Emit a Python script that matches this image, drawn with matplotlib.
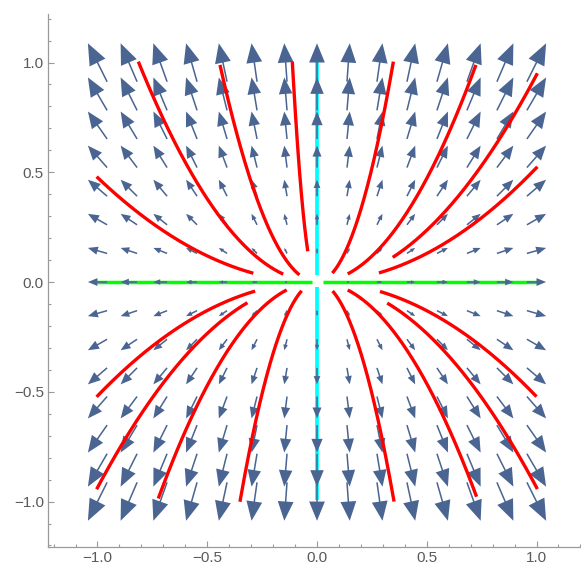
import numpy as np
import matplotlib
matplotlib.use('Agg')
import matplotlib.pyplot as plt
from matplotlib.patches import FancyArrow

# vector field x' = x, y' = 2y sampled on a 15x15 grid
grid = np.arange(-7, 8) / 7.0
field_a = 1.0
field_b = 2.0

# red trajectories: (x_start, y_start, x_end, y_end)
curves = [
    (-0.29, 0.047, -1.004, 0.48),
    (-0.154, 0.04, -0.814, 1.004),
    (-0.08, 0.032, -0.442, 0.989),
    (-0.042, 0.135, -0.1125, 1.004),
    (0.07, 0.044, 0.348, 1.004),
    (0.14, 0.04, 0.724, 0.989),
    (0.345, 0.115, 1.004, 0.951),
    (0.282, 0.047, 1.004, 0.525),
    (-0.282, -0.036, -1.004, -0.523),
    (-0.317, -0.093, -1.004, -0.944),
    (-0.138, -0.033, -0.723, -0.986),
    (-0.07, -0.04, -0.351, -1.001),
    (0.071, -0.036, 0.351, -1.0),
    (0.14, -0.033, 0.727, -0.978),
    (0.32, -0.093, 1.004, -0.943),
    (0.287, -0.04, 1.0, -0.522),
]

# axis lines (eigen directions)
green_segs = [(-1.0, -0.023), (0.026, 1.0)]
cyan_segs = [(0.03, 1.01), (-0.023, -0.995)]

xticks = [-1.0, -0.5, 0.0, 0.5, 1.0]
yticks = [-1.0, -0.5, 0.0, 0.5, 1.0]

fig = plt.figure(figsize=(5.81, 5.74), dpi=100)
ax = fig.add_axes([48/581, 27/574, 533/581, 533/574])
ax.set_xlim(-1.2255, 1.2027)
ax.set_ylim(-1.207, 1.221)

for x0, x1 in green_segs:
    ax.plot([x0, x1], [0, 0], color=(0, 1, 0), lw=2.5, zorder=1, solid_capstyle='butt')
for y0, y1 in cyan_segs:
    ax.plot([0, 0], [y0, y1], color=(0, 1, 1), lw=2.7, zorder=1, solid_capstyle='butt')

arrow_col = '#4a6591'
k = 0.0875
for gx in grid:
    for gy in grid:
        u, v = field_a * gx, field_b * gy
        m = np.hypot(u, v)
        if m == 0:
            continue
        L = k * m
        ux, uy = u / m, v / m
        tx, ty = gx - ux * L / 2, gy - uy * L / 2
        ar = FancyArrow(tx, ty, ux * L, uy * L, width=0.007,
                        head_width=0.41 * L, head_length=0.5 * L,
                        length_includes_head=True, color=arrow_col,
                        lw=0, zorder=2)
        ax.add_patch(ar)

for xs, ys, xe, ye in curves:
    c = ye / xe ** 2
    xx = np.linspace(xs, xe, 200)
    ax.plot(xx, c * xx ** 2, color=(1, 0, 0), lw=2.4, zorder=3, solid_capstyle='butt')

for s in ['top', 'right']:
    ax.spines[s].set_visible(False)
for s in ['left', 'bottom']:
    ax.spines[s].set_color('#9a9a9a')
    ax.spines[s].set_linewidth(0.9)

ax.set_xticks(xticks)
ax.set_yticks(yticks)
ax.set_xticklabels(['\u22121.0', '\u22120.5', '0.0', '0.5', '1.0'])
ax.set_yticklabels(['\u22121.0', '\u22120.5', '0.0', '0.5', '1.0'])
ax.set_xticks(np.arange(-12, 13) / 10.0, minor=True)
ax.set_yticks(np.arange(-12, 13) / 10.0, minor=True)
ax.tick_params(which='both', direction='in', color='#9a9a9a', width=0.8,
               labelcolor='#5a5a5a', labelsize=11, pad=3)
ax.tick_params(which='major', length=4.5)
ax.tick_params(which='minor', length=2.5)
for lab in ax.get_xticklabels() + ax.get_yticklabels():
    lab.set_family('Liberation Sans')

fig.savefig('out.png', dpi=100)
